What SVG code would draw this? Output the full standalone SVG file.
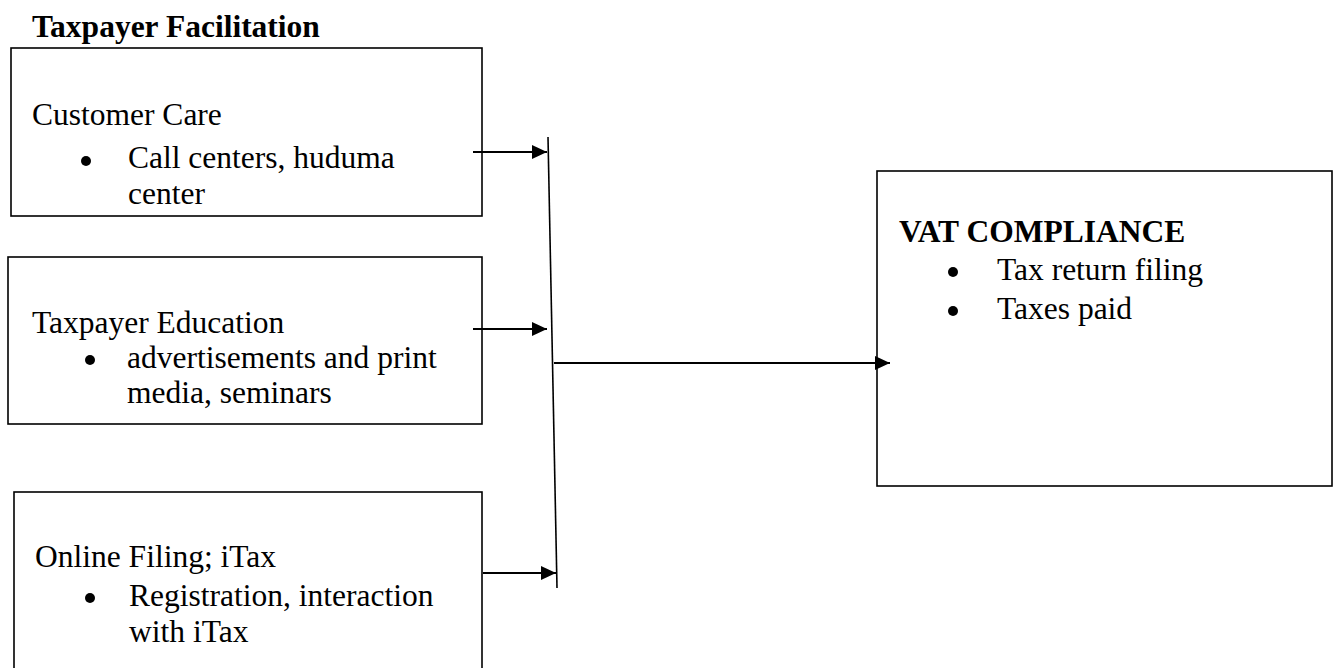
<svg xmlns="http://www.w3.org/2000/svg" width="1338" height="668" viewBox="0 0 1338 668">
<style>
  .box { fill: #fff; stroke: #000; stroke-width: 1.6; }
  .t { font-family: "Liberation Serif", "Times New Roman", serif; font-size: 31.5px; fill: #000; }
  .b { font-weight: bold; }
  .conn { stroke: #000; stroke-width: 2; fill: none; }
  .thin { stroke: #000; stroke-width: 1.6; fill: none; }
</style>
<defs>
  <marker id="ah" markerUnits="userSpaceOnUse" markerWidth="16" markerHeight="14" refX="15" refY="7" orient="auto">
    <path d="M0,0 L15,7 L0,14 z" fill="#000"/>
  </marker>
</defs>
<rect width="1338" height="668" fill="#fff"/>
<text id="title" class="t b" x="32" y="37">Taxpayer Facilitation</text>
<g id="customer-care">
  <rect class="box" x="11" y="48" width="471" height="168"/>
  <text class="t" x="32" y="125">Customer Care</text>
  <circle cx="86" cy="161" r="5"/>
  <text class="t" x="128" y="168">Call centers, huduma</text>
  <text class="t" x="128" y="204">center</text>
</g>
<g id="taxpayer-education">
  <rect class="box" x="8" y="257" width="474" height="167"/>
  <text class="t" x="32" y="333">Taxpayer Education</text>
  <circle cx="90" cy="360" r="5"/>
  <text class="t" x="127" y="368">advertisements and print</text>
  <text class="t" x="127" y="403">media, seminars</text>
</g>
<g id="online-filing">
  <rect class="box" x="14" y="492" width="468" height="182"/>
  <text class="t" x="35" y="567">Online Filing; iTax</text>
  <circle cx="90" cy="598" r="5"/>
  <text class="t" x="129" y="606">Registration, interaction</text>
  <text class="t" x="129" y="642">with iTax</text>
</g>
<g id="vat-compliance">
  <rect class="box" x="877" y="171" width="455" height="315"/>
  <text class="t b" x="899" y="242">VAT COMPLIANCE</text>
  <circle cx="953" cy="272" r="5"/>
  <text class="t" x="997" y="280">Tax return filing</text>
  <circle cx="953" cy="311" r="5"/>
  <text class="t" x="997" y="319">Taxes paid</text>
</g>
<g id="connectors">
  <line class="thin" x1="548" y1="137" x2="557" y2="588"/>
  <line class="conn" x1="473" y1="152" x2="547" y2="152" marker-end="url(#ah)"/>
  <line class="conn" x1="473" y1="329" x2="547" y2="329" marker-end="url(#ah)"/>
  <line class="conn" x1="483" y1="573" x2="556" y2="573" marker-end="url(#ah)"/>
  <line class="conn" x1="554" y1="363" x2="890" y2="363" marker-end="url(#ah)"/>
</g>
</svg>
